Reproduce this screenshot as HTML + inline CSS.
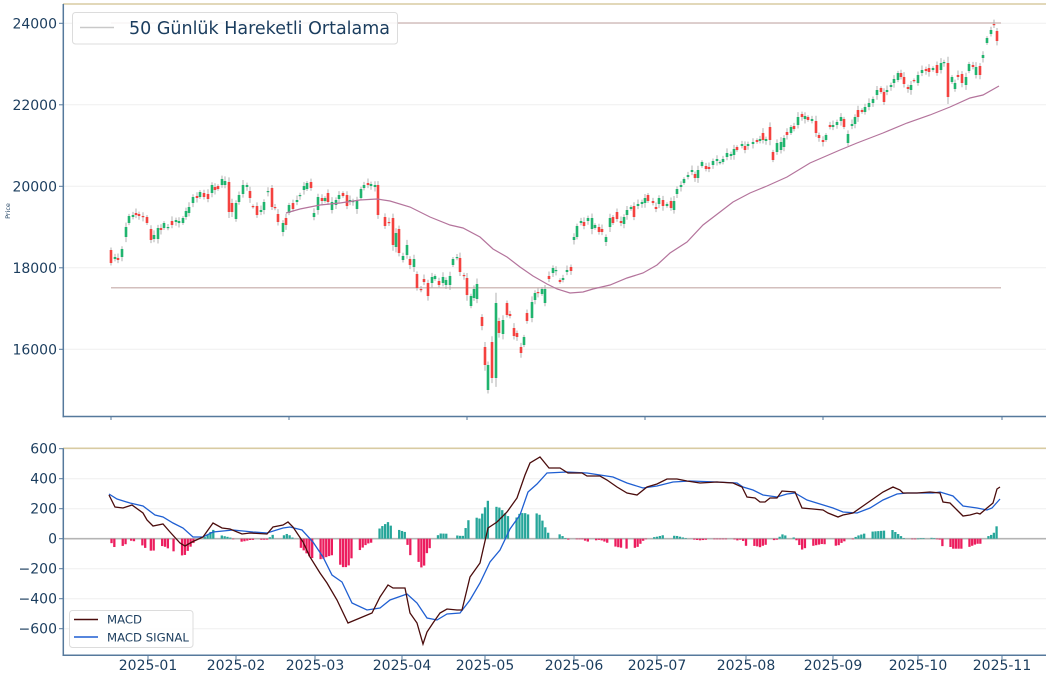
<!DOCTYPE html>
<html><head><meta charset="utf-8">
<style>
html,body{margin:0;padding:0;background:#fff;}
svg{display:block;}
text{font-family:"DejaVu Sans","Liberation Sans",sans-serif;fill:#1b3d5e;}
</style></head><body>
<svg id="c" width="1050" height="677" viewBox="0 0 1050 677" xmlns="http://www.w3.org/2000/svg">
<rect width="1050" height="677" fill="#fff"/>
<!-- top grid -->
<g stroke="#efefef" stroke-width="1">
<line x1="63" y1="23.3" x2="1046" y2="23.3"/>
<line x1="63" y1="104.8" x2="1046" y2="104.8"/>
<line x1="63" y1="186.3" x2="1046" y2="186.3"/>
<line x1="63" y1="267.8" x2="1046" y2="267.8"/>
<line x1="63" y1="349.3" x2="1046" y2="349.3"/>
</g>
<!-- bottom grid -->
<g stroke="#efefef" stroke-width="1">
<line x1="63" y1="478.7" x2="1046" y2="478.7"/>
<line x1="63" y1="508.7" x2="1046" y2="508.7"/>
<line x1="63" y1="568.7" x2="1046" y2="568.7"/>
<line x1="63" y1="598.7" x2="1046" y2="598.7"/>
<line x1="63" y1="628.7" x2="1046" y2="628.7"/>
</g>
<!-- horizontal lines -->
<line x1="111" y1="23" x2="1001" y2="23" stroke="#d3bfbd" stroke-width="1.5"/>
<line x1="111" y1="287.8" x2="1001" y2="287.8" stroke="#d3bfbd" stroke-width="1.5"/>
<g id="candles"></g>
<polyline id="ma" fill="none" stroke="#b4749c" stroke-width="1.2" points=""/>
<!-- zero line -->
<line x1="63" y1="538.7" x2="1046" y2="538.7" stroke="#b4b4b4" stroke-width="1.6"/>
<g id="hist"></g>
<polyline id="sig" fill="none" stroke="#1f5fd2" stroke-width="1.3" points=""/>
<polyline id="macd" fill="none" stroke="#4a0c0c" stroke-width="1.3" points=""/>
<!-- spines -->
<line x1="63" y1="4" x2="1046" y2="4" stroke="#d8cba2" stroke-width="1.6"/>
<line x1="63" y1="448.3" x2="1046" y2="448.3" stroke="#d8cba2" stroke-width="1.6"/>
<g stroke="#56799c" stroke-width="1.5">
<line x1="63.3" y1="4" x2="63.3" y2="417.2"/>
<line x1="62.5" y1="416.5" x2="1046" y2="416.5"/>
<line x1="63.3" y1="448.3" x2="63.3" y2="656"/>
<line x1="62.5" y1="655.3" x2="1046" y2="655.3"/>
</g>
<!-- y tick marks -->
<g stroke="#56799c" stroke-width="1">
<line x1="59" y1="23.3" x2="63" y2="23.3"/>
<line x1="59" y1="104.8" x2="63" y2="104.8"/>
<line x1="59" y1="186.3" x2="63" y2="186.3"/>
<line x1="59" y1="267.8" x2="63" y2="267.8"/>
<line x1="59" y1="349.3" x2="63" y2="349.3"/>
<line x1="59" y1="448.7" x2="63" y2="448.7"/>
<line x1="59" y1="478.7" x2="63" y2="478.7"/>
<line x1="59" y1="508.7" x2="63" y2="508.7"/>
<line x1="59" y1="538.7" x2="63" y2="538.7"/>
<line x1="59" y1="568.7" x2="63" y2="568.7"/>
<line x1="59" y1="598.7" x2="63" y2="598.7"/>
<line x1="59" y1="628.7" x2="63" y2="628.7"/>
<line x1="111" y1="417" x2="111" y2="420"/>
<line x1="289" y1="417" x2="289" y2="420"/>
<line x1="467" y1="417" x2="467" y2="420"/>
<line x1="645" y1="417" x2="645" y2="420"/>
<line x1="823" y1="417" x2="823" y2="420"/>
<line x1="1002" y1="417" x2="1002" y2="420"/>
<line x1="148" y1="656" x2="148" y2="659"/>
<line x1="236" y1="656" x2="236" y2="659"/>
<line x1="315" y1="656" x2="315" y2="659"/>
<line x1="402" y1="656" x2="402" y2="659"/>
<line x1="485" y1="656" x2="485" y2="659"/>
<line x1="574" y1="656" x2="574" y2="659"/>
<line x1="657" y1="656" x2="657" y2="659"/>
<line x1="746" y1="656" x2="746" y2="659"/>
<line x1="833" y1="656" x2="833" y2="659"/>
<line x1="918" y1="656" x2="918" y2="659"/>
<line x1="1002" y1="656" x2="1002" y2="659"/>
</g>
<!-- y labels -->
<g font-size="14" text-anchor="end">
<text x="57" y="28.3">24000</text>
<text x="57" y="109.8">22000</text>
<text x="57" y="191.3">20000</text>
<text x="57" y="272.8">18000</text>
<text x="57" y="354.3">16000</text>
<text x="57" y="453.7">600</text>
<text x="57" y="483.7">400</text>
<text x="57" y="513.7">200</text>
<text x="57" y="543.7">0</text>
<text x="57" y="573.7">−200</text>
<text x="57" y="603.7">−400</text>
<text x="57" y="633.7">−600</text>
</g>
<g font-size="14" text-anchor="middle">
<text x="148" y="670">2025-01</text>
<text x="236" y="670">2025-02</text>
<text x="315" y="670">2025-03</text>
<text x="402" y="670">2025-04</text>
<text x="485" y="670">2025-05</text>
<text x="574" y="670">2025-06</text>
<text x="657" y="670">2025-07</text>
<text x="746" y="670">2025-08</text>
<text x="833" y="670">2025-09</text>
<text x="918" y="670">2025-10</text>
<text x="1002" y="670">2025-11</text>
</g>
<text x="0" y="0" font-size="6.5" text-anchor="middle" transform="translate(10,211) rotate(-90)">Price</text>
<!-- top legend -->
<rect x="72.5" y="12.5" width="325" height="31.5" rx="3" fill="#fff" fill-opacity="0.85" stroke="#dcdcdc" stroke-width="1"/>
<line x1="80" y1="27.5" x2="114" y2="27.5" stroke="#c9c9c9" stroke-width="1.5"/>
<text x="129" y="34" font-size="17.5">50 Günlük Hareketli Ortalama</text>
<!-- macd legend -->
<rect x="69.5" y="610.5" width="123.5" height="37" rx="3" fill="#fff" fill-opacity="0.85" stroke="#dcdcdc" stroke-width="1"/>
<line x1="74" y1="619.5" x2="98" y2="619.5" stroke="#4a0c0c" stroke-width="1.5"/>
<line x1="74" y1="637" x2="98" y2="637" stroke="#1f5fd2" stroke-width="1.5"/>
<text x="107" y="623.7" font-size="11.7">MACD</text>
<text x="107" y="641.3" font-size="11.7">MACD SIGNAL</text>
</svg>
<script>
(function(){
var NS="http://www.w3.org/2000/svg";
function el(n,a){var e=document.createElementNS(NS,n);for(var k in a)e.setAttribute(k,a[k]);return e;}
var C=[[111,250,263,0],[115,257,259,1],[118,258,260,0],[122,249,257,1],[126,227,237,1],[129,216,223,1],[133,215,217,1],[136,213,215,0],[139,214,216,0],[143,216,217,0],[147,217,223,0],[151,229,240,0],[154,235,239,1],[158,228,239,1],[161,228,230,0],[164,223,228,1],[168,227,228,1],[172,221,225,0],[176,220,222,1],[179,221,223,1],[183,218,223,1],[186,211,217,1],[189,207,213,1],[193,197,203,1],[197,196,198,0],[200,192,197,1],[204,193,197,0],[208,194,199,0],[212,185,193,1],[215,187,190,0],[218,186,189,0],[222,179,185,1],[225,181,185,1],[229,182,212,0],[232,203,212,0],[236,203,219,1],[239,195,202,1],[243,185,194,1],[247,185,187,1],[250,191,198,0],[253,206,207,0],[257,206,215,0],[261,210,212,1],[264,202,210,1],[268,191,192,1],[272,188,207,0],[275,207,208,0],[278,214,222,0],[283,223,232,1],[286,218,225,0],[289,205,213,1],[293,203,209,0],[297,200,202,1],[300,195,196,1],[304,186,190,1],[307,183,189,1],[311,182,188,0],[314,213,217,1],[318,197,210,1],[322,198,201,0],[325,198,201,1],[328,193,202,0],[332,202,210,1],[336,200,205,1],[339,195,199,1],[343,193,196,0],[347,195,206,0],[350,200,202,1],[353,201,202,1],[357,201,209,1],[361,189,198,1],[364,185,188,1],[368,183,185,0],[371,184,186,1],[375,185,187,1],
[378,185,215,0],[385,217,226,0],[389,222,223,0],[393,218,245,0],[396,233,247,1],[399,229,253,0],[403,256,260,1],[407,245,255,1],[410,259,265,0],[414,259,267,1],[417,274,288,0],[421,289,290,0],[424,279,282,0],[428,283,296,0],[432,277,283,1],[435,276,279,1],[439,281,285,0],[443,277,283,1],[446,280,285,1],[450,276,285,1],[453,259,265,1],[457,257,258,1],[460,258,272,0],[464,275,276,0],[467,278,295,0],[471,296,306,1],[474,289,298,1],[477,284,299,1],[482,317,326,0],[485,347,365,0],[488,365,390,1],[492,342,378,0],[496,303,378,1],[499,321,333,0],[503,320,334,1],[507,303,315,0],[510,314,316,0],[514,328,336,0],[517,333,337,0],[521,347,353,0],[524,337,345,1],[527,313,321,0],[532,302,318,1],[535,293,300,1],[538,292,293,0],[542,289,294,1],[545,289,303,1],[549,276,279,0],[553,268,273,1],[556,270,271,1],[560,280,282,0],[563,278,280,1],[567,270,272,1],[571,267,271,0],[574,237,240,1],[577,226,237,1],[581,221,223,1],[584,222,226,0],[588,218,221,1],[592,218,229,1],[595,225,228,1],[599,227,232,0],[602,229,232,0],[606,237,242,1],[610,218,227,1],[613,217,223,0],[617,212,219,0],[621,221,223,0],[624,217,224,1],[627,210,215,1],[631,207,209,1],[634,206,217,0],[638,204,206,1],[642,202,204,1],[645,198,203,1],[648,195,201,0],[653,201,203,0],[656,207,209,0],[659,198,204,1],[663,200,206,0],[667,204,206,1],[671,201,208,0],[674,201,210,1],[677,189,194,1],[681,185,187,1],[684,179,183,1],[688,175,177,1],[692,170,172,1],[695,174,178,0],[698,170,178,1],[702,162,166,1],[706,166,169,0],[709,167,169,0],[713,161,165,1],[717,159,161,1],[720,162,163,1],[723,159,162,1],[727,153,157,1],[731,154,156,1],[734,149,155,1],[737,147,150,0],[742,144,146,1],[745,146,150,0],[748,144,146,1],[753,142,144,1],[757,140,142,0],[760,139,141,1],[763,133,140,0],[766,139,141,1],[770,127,140,0],[773,152,160,0],[777,143,152,1],[781,142,150,1],[784,138,147,1],[787,132,135,0],[791,127,133,1],[794,126,129,0],[798,117,125,1],[802,114,117,0],[805,116,119,1],[808,117,120,0],[812,119,121,1],[816,121,133,0],[819,135,138,0],[823,140,142,0],[826,135,140,1],[830,125,127,0],[833,125,127,1],[837,122,125,1],[841,117,121,1],[844,119,127,0],[848,134,143,1],[852,124,126,1],[855,117,124,1],[858,110,117,0],[862,110,112,0],[865,107,112,1],[869,103,107,1],[873,99,103,1],[877,90,95,1],[881,88,92,0],[884,92,102,0],[887,90,92,1],[891,85,87,1],[894,79,83,1],[898,73,80,1],[901,73,77,0],[904,77,84,0],[908,87,89,0],[911,85,90,1],[914,80,81,0],[918,75,83,1],[922,70,73,1],[926,69,71,0],[929,68,72,0],[933,68,70,1],[937,65,73,0],[941,63,70,1],[944,62,63,1],[948,63,97,0],[952,77,82,1],[955,83,89,1],[958,75,77,0],[962,74,83,0],[966,77,85,1],[969,64,71,1],[973,65,67,0],[976,67,75,1],[980,66,75,0],[983,55,58,1],[987,38,43,1],[991,30,34,1],[994,24,25,0],[997,31,41,0]];
var g=document.getElementById('candles');
for(var i=0;i<C.length;i++){
 var c=C[i],x=c[0],t=c[1],b=c[2];
 var span=b-t;
 var w1=1.5+((i*7)%5)*0.7+span*0.08, w2=1.5+((i*11)%5)*0.7+span*0.08;
 g.appendChild(el('line',{x1:x,y1:(t-w1).toFixed(1),x2:x,y2:(b+w2).toFixed(1),stroke:'#a9a9a9','stroke-width':0.9}));
 var h=Math.max(span,1.2);
 g.appendChild(el('rect',{x:(x-1.3).toFixed(1),y:t,width:2.6,height:h.toFixed(1),fill:c[3]?'#20b46e':'#f4423f'}));
}
var MA=[[286,213],[300,209],[320,205],[340,203],[360,200],[377,199],[390,201],[410,207],[430,217],[450,225],[463,228],[480,237],[493,249],[507,257],[520,267],[533,276],[547,284],[557,289],[570,293],[583,292],[593,289],[610,285],[627,278],[643,273],[657,265],[670,253],[687,242],[703,225],[720,212],[733,202],[750,193],[767,186],[787,177],[810,163],[840,150],[857,143],[883,133],[907,123],[930,115],[950,107],[970,98],[983,95],[999,86]];
var M=[[109,495],[115,507],[123,508],[132,505],[143,513],[147,520],[153,526],[163,524],[170,532],[180,543],[185,546],[192,542],[203,537],[213,523],[222,528],[230,529],[242,534],[250,533],[267,534],[273,527],[283,525],[288,522],[293,527],[303,542],[310,557],[320,573],[327,583],[337,600],[348,623],[360,618],[372,613],[380,597],[388,585],[393,588],[405,588],[410,613],[417,623],[423,644],[427,632],[433,623],[440,613],[447,609],[457,610],[462,610],[470,577],[480,563],[488,528],[497,522],[507,512],[517,498],[525,475],[530,463],[540,457],[549,468],[560,468],[568,473],[582,473],[587,476],[600,476],[607,480],[617,487],[627,493],[637,495],[647,487],[657,484],[667,479],[677,479],[687,481],[700,483],[717,482],[733,483],[742,487],[747,497],[755,498],[760,502],[765,502],[770,498],[777,498],[782,491],[795,492],[802,508],[813,509],[823,510],[828,513],[838,517],[843,515],[853,513],[863,506],[873,499],[883,492],[893,487],[900,490],[903,493],[917,493],[930,492],[940,493],[943,502],[950,503],[957,510],[963,516],[970,515],[977,513],[980,514],[987,508],[993,503],[997,489],[1000,487]];
var S=[[109,494],[117,499],[130,503],[143,506],[155,515],[163,517],[173,523],[183,528],[193,537],[203,537],[213,532],[233,530],[253,532],[267,533],[283,528],[290,527],[302,530],[313,542],[323,557],[332,575],[342,582],[352,603],[367,610],[380,608],[390,600],[407,594],[417,603],[427,618],[437,620],[447,614],[460,613],[470,600],[480,583],[490,562],[500,550],[510,529],[520,515],[528,492],[537,484],[547,473],[567,472],[587,473],[600,475],[613,477],[627,483],[643,488],[657,486],[673,482],[690,481],[717,482],[737,483],[743,487],[753,490],[763,495],[777,497],[787,494],[795,493],[807,500],[820,504],[833,508],[843,512],[857,513],[870,508],[883,500],[897,494],[907,493],[933,493],[940,492],[953,496],[963,506],[977,508],[987,510],[992,508],[1000,499]];
function pts(a){return a.map(function(p){return p[0]+','+p[1];}).join(' ');}
document.getElementById('ma').setAttribute('points',pts(MA));
document.getElementById('macd').setAttribute('points',pts(M));
document.getElementById('sig').setAttribute('points',pts(S));
function interp(a,x){if(x<=a[0][0])return a[0][1];for(var i=1;i<a.length;i++){if(x<=a[i][0]){var p=a[i-1],q=a[i];return p[1]+(q[1]-p[1])*(x-p[0])/(q[0]-p[0]);}}return a[a.length-1][1];}
// trading days
var anchors=[[2024,11,61],[2025,0,148],[2025,1,236],[2025,2,315],[2025,3,402],[2025,4,485],[2025,5,574],[2025,6,657],[2025,7,746],[2025,8,833],[2025,9,918],[2025,10,1002]];
var hol={'2024-11-25':1,'2025-0-1':1,'2025-0-9':1,'2025-0-20':1,'2025-1-17':1,'2025-3-18':1,'2025-4-26':1,'2025-5-19':1,'2025-6-4':1,'2025-8-1':1};
var days=[];
for(var k=0;k<anchors.length-1;k++){
 var y=anchors[k][0],m=anchors[k][1],x0=anchors[k][2],x1=anchors[k+1][2];
 var dim=new Date(y,m+1,0).getDate();
 for(var d=1;d<=dim;d++){
  var dt=new Date(y,m,d),wd=dt.getDay();
  if(wd==0||wd==6)continue;
  if(hol[y+'-'+m+'-'+d])continue;
  if(y==2024&&d<19)continue;
  if(y==2025&&m==9&&d>30)continue;
  days.push(x0+(d-1)*(x1-x0)/dim);
 }
}
var hg=document.getElementById('hist');
for(var j=0;j<days.length;j++){
 var x=days[j];
 var h=interp(M,x)-interp(S,x);
 var y0=538.7,top=Math.min(y0,y0+h),ht=Math.abs(h);
 if(ht<0.6)ht=0.6;
 hg.appendChild(el('rect',{x:(x-1.15).toFixed(2),y:top.toFixed(2),width:2.3,height:ht.toFixed(2),fill:h<0?'#26a69a':'#ec1d5e'}));
}
})();
</script>
</body></html>
